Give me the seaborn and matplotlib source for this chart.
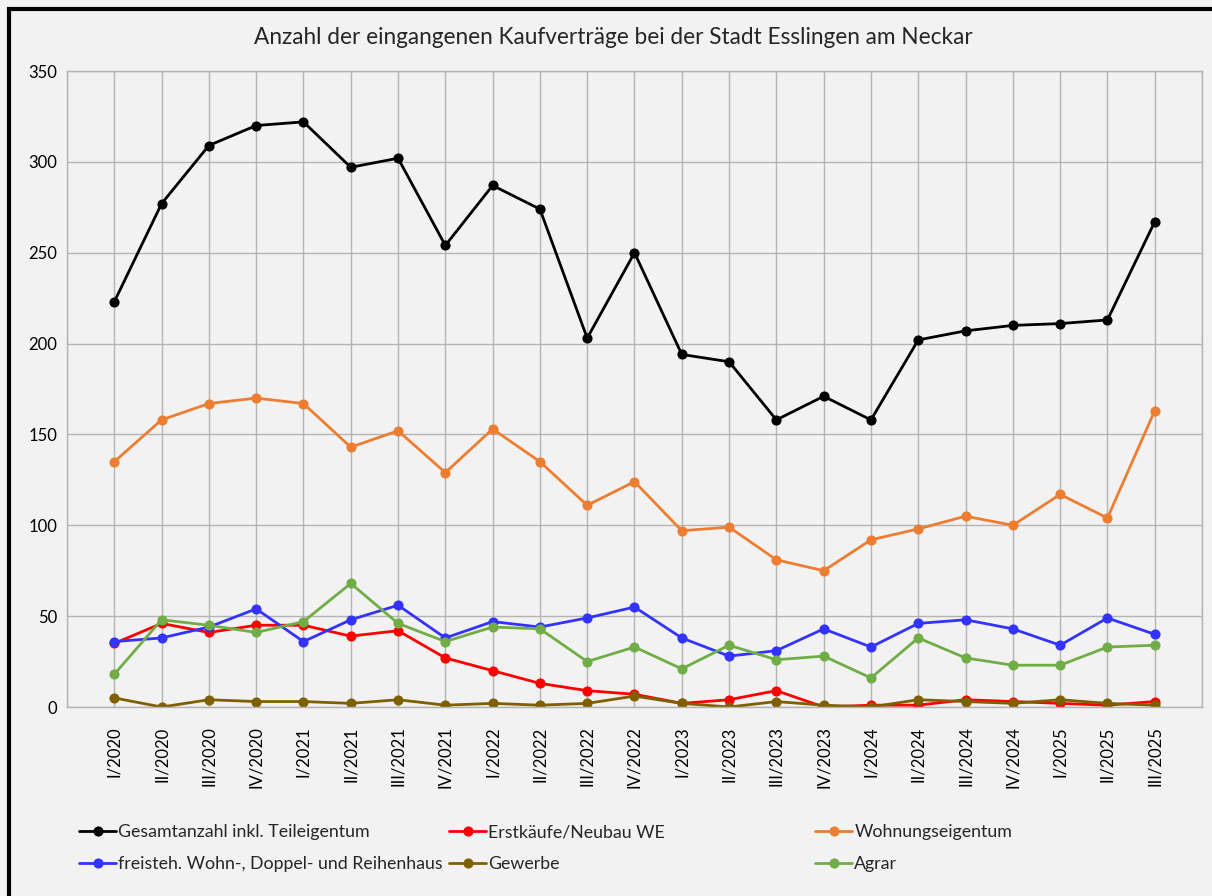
import matplotlib
matplotlib.use("Agg")
import matplotlib.pyplot as plt
import matplotlib.patches as patches
import seaborn as sns
import numpy as np
import pandas as pd

quartale = ["I/2020", "II/2020", "III/2020", "IV/2020",
            "I/2021", "II/2021", "III/2021", "IV/2021",
            "I/2022", "II/2022", "III/2022", "IV/2022",
            "I/2023", "II/2023", "III/2023", "IV/2023",
            "I/2024", "II/2024", "III/2024", "IV/2024",
            "I/2025", "II/2025", "III/2025"]

gesamt = [223, 277, 309, 320, 322, 297, 302, 254, 287, 274, 203, 250,
          194, 190, 158, 171, 158, 202, 207, 210, 211, 213, 267]
erstkaeufe = [35, 46, 41, 45, 45, 39, 42, 27, 20, 13, 9, 7,
              2, 4, 9, 0, 1, 1, 4, 3, 2, 1, 3]
wohnungseigentum = [135, 158, 167, 170, 167, 143, 152, 129, 153, 135, 111, 124,
                    97, 99, 81, 75, 92, 98, 105, 100, 117, 104, 163]
freisteh = [36, 38, 44, 54, 36, 48, 56, 38, 47, 44, 49, 55,
            38, 28, 31, 43, 33, 46, 48, 43, 34, 49, 40]
gewerbe = [5, 0, 4, 3, 3, 2, 4, 1, 2, 1, 2, 6,
           2, 0, 3, 1, 0, 4, 3, 2, 4, 2, 1]
agrar = [18, 48, 45, 41, 47, 68, 46, 36, 44, 43, 25, 33,
         21, 34, 26, 28, 16, 38, 27, 23, 23, 33, 34]

serien = ["Gesamtanzahl inkl. Teileigentum", "Erstkäufe/Neubau WE", "Wohnungseigentum",
          "freisteh. Wohn-, Doppel- und Reihenhaus", "Gewerbe", "Agrar"]
werte = [gesamt, erstkaeufe, wohnungseigentum, freisteh, gewerbe, agrar]
farben = ["#000000", "#ff0000", "#ed7d31", "#3333ff", "#7f6000", "#70ad47"]

df = pd.concat([pd.DataFrame({"pos": np.arange(len(quartale)), "anzahl": w, "serie": s})
                for s, w in zip(serien, werte)], ignore_index=True)

bg = "#f2f2f2"
grid = "#b4b4b4"
sns.set_theme(style="whitegrid", rc={"figure.facecolor": bg, "axes.facecolor": bg,
                                     "grid.color": grid, "axes.edgecolor": grid})
plt.rcParams["font.family"] = ["Lato", "DejaVu Sans"]

fig = plt.figure(figsize=(12.12, 8.96), dpi=100)
ax = fig.add_axes([67/1212, 1-707/896, (1202-67)/1212, 636/896])

sns.lineplot(data=df, x="pos", y="anzahl", hue="serie", hue_order=serien,
             palette=farben, marker="o", markersize=7.3, markeredgewidth=0,
             linewidth=2, ax=ax, sort=False)

ax.set_xlim(-1, len(quartale))
ax.set_ylim(0, 350)
ax.set_yticks(np.arange(0, 351, 50))
ax.set_xticks(np.arange(-1, len(quartale) + 1), [""] + quartale + [""], rotation=90)
ax.tick_params(axis="both", length=0, labelsize=12, colors="black", pad=7)
ax.tick_params(axis="x", pad=14)
ax.grid(True, color=grid, linewidth=1)
for sp in ax.spines.values():
    sp.set_color(grid)
    sp.set_linewidth(1)
ax.set_xlabel("")
ax.set_ylabel("")

handles, labels = ax.get_legend_handles_labels()
ax.get_legend().remove()
for i, x0 in enumerate([72/1212, 442/1212, 808/1212]):
    idx = [i, i + 3]
    fig.legend([handles[j] for j in idx], [labels[j] for j in idx],
               loc="upper left", bbox_to_anchor=(x0, 1-817/896), frameon=False,
               fontsize=12.8, handlelength=2.1, handletextpad=0.1, labelspacing=0.9,
               borderaxespad=0)

fig.suptitle("Anzahl der eingangenen Kaufverträge bei der Stadt Esslingen am Neckar",
             x=613/1212, y=1-38/896, va="center", fontsize=16.3)

fig.patches.append(patches.Rectangle((9/1212, -0.1), 1.2, 1.1-9/896, fill=False,
                                     edgecolor="black", linewidth=3,
                                     transform=fig.transFigure, figure=fig))

fig.savefig("out.png", dpi=100, facecolor=bg)
